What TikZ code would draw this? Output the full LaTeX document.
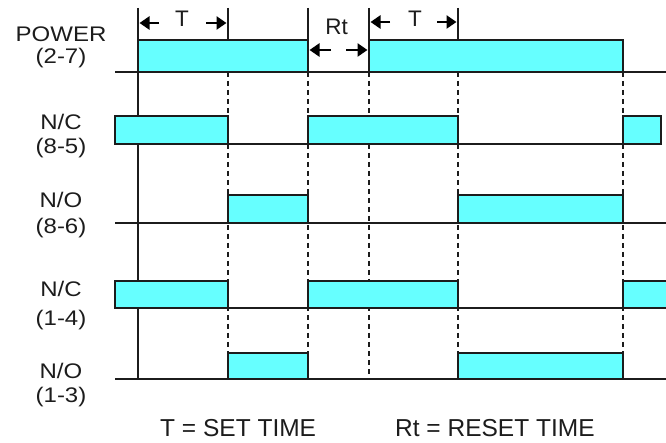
\documentclass[tikz,border=0pt]{standalone}
\usepackage{fontspec}
\setmainfont{Liberation Sans}
\usetikzlibrary{arrows.meta}
\definecolor{boxcyan}{RGB}{102,255,255}
\definecolor{ink}{RGB}{28,28,28}
\begin{document}
\begin{tikzpicture}[x=1pt,y=-1pt,
  sig/.style={draw=ink,line width=1.5pt,fill=boxcyan},
  baseln/.style={draw=ink,line width=1.5pt},
  guide/.style={draw=ink,line width=1.5pt},
  dguide/.style={draw=ink,line width=1.8pt,dash pattern=on 5pt off 4pt},
  dimarrow/.style={draw=black,line width=2.8pt,-{Triangle[length=10pt,width=13pt]}},
  lbl/.style={font=\fontsize{24}{24}\selectfont,anchor=base,inner sep=0pt,text=ink},
  bottxt/.style={font=\fontsize{24.5}{24.5}\selectfont,anchor=base west,inner sep=0pt,text=ink},
  marktxt/.style={font=\fontsize{22.5}{22.5}\selectfont,anchor=base,inner sep=0pt,text=ink}
]
\useasboundingbox (0,0) rectangle (666,443);
% time marker coordinates
\coordinate (a1) at (138,8);  \coordinate (b1) at (138,379);
\coordinate (a2) at (228,8);  \coordinate (m2) at (228,40);
\coordinate (a3) at (308,8);  \coordinate (m3) at (308,72);
\coordinate (a4) at (369,8);  \coordinate (m4) at (369,72);
\coordinate (a5) at (458,8);  \coordinate (m5) at (458,40);
\coordinate (m6) at (623,72);
% solid guide lines
\draw[guide] (a1) -- (b1);
\draw[guide] (a2) -- (m2);
\draw[guide] (a3) -- (m3);
\draw[guide] (a4) -- (m4);
\draw[guide] (a5) -- (m5);
% dashed guide lines
\draw[dguide] (228,72) -- (228,379);
\draw[dguide] (m3) -- (308,379);
\draw[dguide] (m4) -- (369,379);
\draw[dguide] (458,72) -- (458,379);
\draw[dguide] (m6) -- (623,379);
% base lines
\draw[baseln] (115,72) -- (666,72);
\draw[baseln] (115,144) -- (661,144);
\draw[baseln] (115,223) -- (666,223);
\draw[baseln] (115,308) -- (666,308);
\draw[baseln] (115,379) -- (666,379);
% POWER (2-7)
\draw[sig] (138,40) rectangle (308,72);
\draw[sig] (369,40) rectangle (623,72);
% N/C (8-5)
\draw[sig] (115,116) rectangle (228,144);
\draw[sig] (308,116) rectangle (458,144);
\draw[sig] (623,116) rectangle (661,144);
% N/O (8-6)
\draw[sig] (228,195) rectangle (308,223);
\draw[sig] (458,195) rectangle (623,223);
% N/C (1-4)
\draw[sig] (115,281) rectangle (228,308);
\draw[sig] (308,281) rectangle (458,308);
\fill[boxcyan] (623,281) rectangle (666,308);
\draw[baseln] (623,308) -- (623,281) -- (666,281);
\draw[baseln] (623,308) -- (666,308);
% N/O (1-3)
\draw[sig] (228,353) rectangle (308,379);
\draw[sig] (458,353) rectangle (623,379);
% dimension arrows
\coordinate (t1l) at (159,23); \coordinate (t1r) at (206,23);
\coordinate (rl) at (331,50);  \coordinate (rr) at (346,50);
\coordinate (t2l) at (390,22); \coordinate (t2r) at (437,22);
\draw[dimarrow] (t1l) -- (139.5,23);
\draw[dimarrow] (t1r) -- (226.5,23);
\draw[dimarrow] (rl) -- (309.5,50);
\draw[dimarrow] (rr) -- (367.5,50);
\draw[dimarrow] (t2l) -- (370.5,22);
\draw[dimarrow] (t2r) -- (456.5,22);
\node[marktxt] (tA) at (182,26.7) {T};
\node[marktxt] (rt) at (336.5,35) {Rt};
\node[marktxt] (tB) at (415,27) {T};
% row labels
\node[lbl] (l1a) at (61,41.7) {\scalebox{1}[0.88]{POWER}};
\node[lbl] (l1b) at (61,64) {\scalebox{1}[0.88]{(2-7)}};
\node[lbl] (l2a) at (61,129.5) {\scalebox{1}[0.88]{N/C}};
\node[lbl] (l2b) at (61,154) {\scalebox{1}[0.88]{(8-5)}};
\node[lbl] (l3a) at (61,207.5) {\scalebox{1}[0.88]{N/O}};
\node[lbl] (l3b) at (61,234) {\scalebox{1}[0.88]{(8-6)}};
\node[lbl] (l4a) at (61,296.5) {\scalebox{1}[0.88]{N/C}};
\node[lbl] (l4b) at (61,325) {\scalebox{1}[0.88]{(1-4)}};
\node[lbl] (l5a) at (61,378) {\scalebox{1}[0.88]{N/O}};
\node[lbl] (l5b) at (61,402) {\scalebox{1}[0.88]{(1-3)}};
% legend
\node[bottxt] (leg1) at (160,436) {T = SET TIME};
\node[bottxt] (leg2) at (395,436) {Rt = RESET TIME};
\end{tikzpicture}
\end{document}
